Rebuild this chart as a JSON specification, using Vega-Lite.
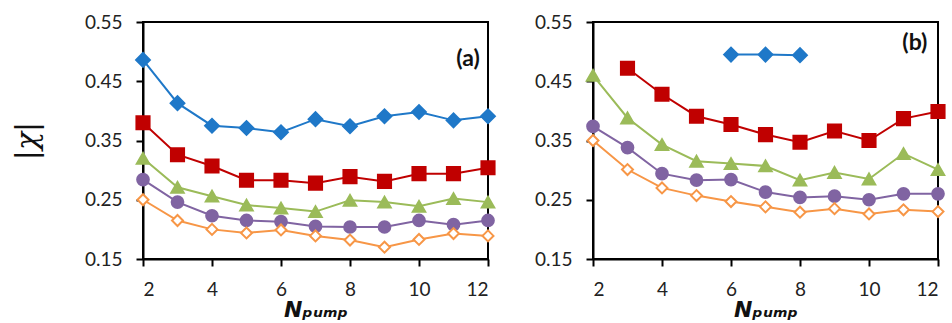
{
  "$schema": "https://vega.github.io/schema/vega-lite/v6.json",
  "background": "white",
  "padding": {"left": 11, "top": 12, "right": 2, "bottom": 2},
  "config": {
    "font": "Lato",
    "view": {"stroke": "black", "strokeWidth": 2},
    "axis": {
      "grid": false,
      "domainColor": "black",
      "domainWidth": 2,
      "tickColor": "black",
      "tickWidth": 2,
      "tickSize": 7,
      "labelFont": "Lato",
      "labelFontSize": 19,
      "labelColor": "#222222",
      "labelPadding": 14
    },
    "concat": {"spacing": 33}
  },
  "datasets": {
    "pts": [
      {"panel": "a", "series": "s1", "x": 2, "y": 0.486},
      {"panel": "a", "series": "s1", "x": 3, "y": 0.413},
      {"panel": "a", "series": "s1", "x": 4, "y": 0.375},
      {"panel": "a", "series": "s1", "x": 5, "y": 0.371},
      {"panel": "a", "series": "s1", "x": 6, "y": 0.364},
      {"panel": "a", "series": "s1", "x": 7, "y": 0.386},
      {"panel": "a", "series": "s1", "x": 8, "y": 0.374},
      {"panel": "a", "series": "s1", "x": 9, "y": 0.391},
      {"panel": "a", "series": "s1", "x": 10, "y": 0.398},
      {"panel": "a", "series": "s1", "x": 11, "y": 0.384},
      {"panel": "a", "series": "s1", "x": 12, "y": 0.391},
      {"panel": "a", "series": "s2", "x": 2, "y": 0.380},
      {"panel": "a", "series": "s2", "x": 3, "y": 0.326},
      {"panel": "a", "series": "s2", "x": 4, "y": 0.307},
      {"panel": "a", "series": "s2", "x": 5, "y": 0.283},
      {"panel": "a", "series": "s2", "x": 6, "y": 0.283},
      {"panel": "a", "series": "s2", "x": 7, "y": 0.278},
      {"panel": "a", "series": "s2", "x": 8, "y": 0.289},
      {"panel": "a", "series": "s2", "x": 9, "y": 0.281},
      {"panel": "a", "series": "s2", "x": 10, "y": 0.294},
      {"panel": "a", "series": "s2", "x": 11, "y": 0.294},
      {"panel": "a", "series": "s2", "x": 12, "y": 0.304},
      {"panel": "a", "series": "s3", "x": 2, "y": 0.320},
      {"panel": "a", "series": "s3", "x": 3, "y": 0.271},
      {"panel": "a", "series": "s3", "x": 4, "y": 0.256},
      {"panel": "a", "series": "s3", "x": 5, "y": 0.241},
      {"panel": "a", "series": "s3", "x": 6, "y": 0.236},
      {"panel": "a", "series": "s3", "x": 7, "y": 0.230},
      {"panel": "a", "series": "s3", "x": 8, "y": 0.249},
      {"panel": "a", "series": "s3", "x": 9, "y": 0.246},
      {"panel": "a", "series": "s3", "x": 10, "y": 0.239},
      {"panel": "a", "series": "s3", "x": 11, "y": 0.252},
      {"panel": "a", "series": "s3", "x": 12, "y": 0.246},
      {"panel": "a", "series": "s4", "x": 2, "y": 0.284},
      {"panel": "a", "series": "s4", "x": 3, "y": 0.246},
      {"panel": "a", "series": "s4", "x": 4, "y": 0.223},
      {"panel": "a", "series": "s4", "x": 5, "y": 0.215},
      {"panel": "a", "series": "s4", "x": 6, "y": 0.213},
      {"panel": "a", "series": "s4", "x": 7, "y": 0.205},
      {"panel": "a", "series": "s4", "x": 8, "y": 0.204},
      {"panel": "a", "series": "s4", "x": 9, "y": 0.204},
      {"panel": "a", "series": "s4", "x": 10, "y": 0.215},
      {"panel": "a", "series": "s4", "x": 11, "y": 0.208},
      {"panel": "a", "series": "s4", "x": 12, "y": 0.215},
      {"panel": "a", "series": "s5", "x": 2, "y": 0.250},
      {"panel": "a", "series": "s5", "x": 3, "y": 0.215},
      {"panel": "a", "series": "s5", "x": 4, "y": 0.200},
      {"panel": "a", "series": "s5", "x": 5, "y": 0.194},
      {"panel": "a", "series": "s5", "x": 6, "y": 0.199},
      {"panel": "a", "series": "s5", "x": 7, "y": 0.189},
      {"panel": "a", "series": "s5", "x": 8, "y": 0.182},
      {"panel": "a", "series": "s5", "x": 9, "y": 0.170},
      {"panel": "a", "series": "s5", "x": 10, "y": 0.183},
      {"panel": "a", "series": "s5", "x": 11, "y": 0.193},
      {"panel": "a", "series": "s5", "x": 12, "y": 0.189},
      {"panel": "b", "series": "s1", "x": 6, "y": 0.495},
      {"panel": "b", "series": "s1", "x": 7, "y": 0.495},
      {"panel": "b", "series": "s1", "x": 8, "y": 0.494},
      {"panel": "b", "series": "s2", "x": 3, "y": 0.472},
      {"panel": "b", "series": "s2", "x": 4, "y": 0.428},
      {"panel": "b", "series": "s2", "x": 5, "y": 0.391},
      {"panel": "b", "series": "s2", "x": 6, "y": 0.377},
      {"panel": "b", "series": "s2", "x": 7, "y": 0.360},
      {"panel": "b", "series": "s2", "x": 8, "y": 0.347},
      {"panel": "b", "series": "s2", "x": 9, "y": 0.366},
      {"panel": "b", "series": "s2", "x": 10, "y": 0.350},
      {"panel": "b", "series": "s2", "x": 11, "y": 0.387},
      {"panel": "b", "series": "s2", "x": 12, "y": 0.399},
      {"panel": "b", "series": "s3", "x": 2, "y": 0.460},
      {"panel": "b", "series": "s3", "x": 3, "y": 0.388},
      {"panel": "b", "series": "s3", "x": 4, "y": 0.343},
      {"panel": "b", "series": "s3", "x": 5, "y": 0.315},
      {"panel": "b", "series": "s3", "x": 6, "y": 0.311},
      {"panel": "b", "series": "s3", "x": 7, "y": 0.307},
      {"panel": "b", "series": "s3", "x": 8, "y": 0.283},
      {"panel": "b", "series": "s3", "x": 9, "y": 0.296},
      {"panel": "b", "series": "s3", "x": 10, "y": 0.285},
      {"panel": "b", "series": "s3", "x": 11, "y": 0.328},
      {"panel": "b", "series": "s3", "x": 12, "y": 0.301},
      {"panel": "b", "series": "s4", "x": 2, "y": 0.374},
      {"panel": "b", "series": "s4", "x": 3, "y": 0.338},
      {"panel": "b", "series": "s4", "x": 4, "y": 0.294},
      {"panel": "b", "series": "s4", "x": 5, "y": 0.283},
      {"panel": "b", "series": "s4", "x": 6, "y": 0.284},
      {"panel": "b", "series": "s4", "x": 7, "y": 0.263},
      {"panel": "b", "series": "s4", "x": 8, "y": 0.254},
      {"panel": "b", "series": "s4", "x": 9, "y": 0.256},
      {"panel": "b", "series": "s4", "x": 10, "y": 0.250},
      {"panel": "b", "series": "s4", "x": 11, "y": 0.260},
      {"panel": "b", "series": "s4", "x": 12, "y": 0.260},
      {"panel": "b", "series": "s5", "x": 2, "y": 0.350},
      {"panel": "b", "series": "s5", "x": 3, "y": 0.301},
      {"panel": "b", "series": "s5", "x": 4, "y": 0.270},
      {"panel": "b", "series": "s5", "x": 5, "y": 0.257},
      {"panel": "b", "series": "s5", "x": 6, "y": 0.247},
      {"panel": "b", "series": "s5", "x": 7, "y": 0.238},
      {"panel": "b", "series": "s5", "x": 8, "y": 0.229},
      {"panel": "b", "series": "s5", "x": 9, "y": 0.235},
      {"panel": "b", "series": "s5", "x": 10, "y": 0.226},
      {"panel": "b", "series": "s5", "x": 11, "y": 0.233},
      {"panel": "b", "series": "s5", "x": 12, "y": 0.230}
    ],
    "labels": [
      {"panel": "a", "x": 11.42, "y": 0.487, "text": "(a)"},
      {"panel": "b", "x": 11.33, "y": 0.514, "text": "(b)"}
    ]
  },
  "hconcat": [
    {
      "width": 345,
      "height": 237,
      "layer": [
        {
          "data": {"name": "pts"},
          "transform": [{"filter": "datum.panel === 'a'"}],
          "mark": {"type": "line", "strokeWidth": 2},
          "encoding": {
            "x": {"field": "x", "type": "quantitative", "scale": {"domain": [2, 12], "nice": false},
                  "axis": {"values": [2, 4, 6, 8, 10, 12], "title": "Nₚᵤₘₚ", "titleFont": "DejaVu Sans", "titleFontSize": 22, "titleFontWeight": "bold", "titleFontStyle": "italic", "titlePadding": 0, "titleColor": "#111111"}},
            "y": {"field": "y", "type": "quantitative", "scale": {"domain": [0.15, 0.55], "nice": false, "zero": false},
                  "axis": {"values": [0.15, 0.25, 0.35, 0.45, 0.55], "format": ".2f", "title": "|χ|", "titleFont": "DejaVu Serif", "titleFontSize": 30, "titleFontWeight": "normal", "titleFontStyle": "italic", "titlePadding": 42, "titleColor": "#111111"}},
            "color": {"field": "series", "type": "nominal", "legend": null,
                      "scale": {"domain": ["s1", "s2", "s3", "s4", "s5"], "range": ["#1F78C8", "#C00000", "#9BBB59", "#8064A2", "#F79646"]}},
            "detail": {"field": "series"}
          }
        },
        {
          "data": {"name": "pts"},
          "transform": [{"filter": "datum.panel === 'a'"}],
          "mark": {"type": "point", "filled": false, "strokeWidth": 2, "opacity": 1},
          "encoding": {
            "x": {"field": "x", "type": "quantitative"},
            "y": {"field": "y", "type": "quantitative"},
            "shape": {"field": "series", "type": "nominal", "legend": null,
                      "scale": {"domain": ["s1", "s2", "s3", "s4", "s5"], "range": ["diamond", "square", "triangle-up", "circle", "diamond"]}},
            "size": {"field": "series", "type": "nominal", "legend": null,
                     "scale": {"domain": ["s1", "s2", "s3", "s4", "s5"], "range": [190, 120, 130, 125, 190]}},
            "fill": {"field": "series", "type": "nominal", "legend": null,
                     "scale": {"domain": ["s1", "s2", "s3", "s4", "s5"], "range": ["#1F78C8", "#C00000", "#9BBB59", "#8064A2", "#FFFFFF"]}},
            "stroke": {"field": "series", "type": "nominal", "legend": null,
                       "scale": {"domain": ["s1", "s2", "s3", "s4", "s5"], "range": ["#1F78C8", "#C00000", "#9BBB59", "#8064A2", "#F79646"]}}
          }
        },
        {
          "data": {"name": "labels"},
          "transform": [{"filter": "datum.panel === 'a'"}],
          "mark": {"type": "text", "font": "Lato", "fontSize": 23, "fontWeight": "bold", "color": "#111111"},
          "encoding": {
            "x": {"field": "x", "type": "quantitative"},
            "y": {"field": "y", "type": "quantitative"},
            "text": {"field": "text"}
          }
        }
      ]
    },
    {
      "width": 345,
      "height": 237,
      "layer": [
        {
          "data": {"name": "pts"},
          "transform": [{"filter": "datum.panel === 'b'"}],
          "mark": {"type": "line", "strokeWidth": 2},
          "encoding": {
            "x": {"field": "x", "type": "quantitative", "scale": {"domain": [2, 12], "nice": false},
                  "axis": {"values": [2, 4, 6, 8, 10, 12], "title": "Nₚᵤₘₚ", "titleFont": "DejaVu Sans", "titleFontSize": 22, "titleFontWeight": "bold", "titleFontStyle": "italic", "titlePadding": 0, "titleColor": "#111111"}},
            "y": {"field": "y", "type": "quantitative", "scale": {"domain": [0.15, 0.55], "nice": false, "zero": false},
                  "axis": {"values": [0.15, 0.25, 0.35, 0.45, 0.55], "format": ".2f", "title": null}},
            "color": {"field": "series", "type": "nominal", "legend": null,
                      "scale": {"domain": ["s1", "s2", "s3", "s4", "s5"], "range": ["#1F78C8", "#C00000", "#9BBB59", "#8064A2", "#F79646"]}},
            "detail": {"field": "series"}
          }
        },
        {
          "data": {"name": "pts"},
          "transform": [{"filter": "datum.panel === 'b'"}],
          "mark": {"type": "point", "filled": false, "strokeWidth": 2, "opacity": 1},
          "encoding": {
            "x": {"field": "x", "type": "quantitative"},
            "y": {"field": "y", "type": "quantitative"},
            "shape": {"field": "series", "type": "nominal", "legend": null,
                      "scale": {"domain": ["s1", "s2", "s3", "s4", "s5"], "range": ["diamond", "square", "triangle-up", "circle", "diamond"]}},
            "size": {"field": "series", "type": "nominal", "legend": null,
                     "scale": {"domain": ["s1", "s2", "s3", "s4", "s5"], "range": [190, 120, 130, 125, 190]}},
            "fill": {"field": "series", "type": "nominal", "legend": null,
                     "scale": {"domain": ["s1", "s2", "s3", "s4", "s5"], "range": ["#1F78C8", "#C00000", "#9BBB59", "#8064A2", "#FFFFFF"]}},
            "stroke": {"field": "series", "type": "nominal", "legend": null,
                       "scale": {"domain": ["s1", "s2", "s3", "s4", "s5"], "range": ["#1F78C8", "#C00000", "#9BBB59", "#8064A2", "#F79646"]}}
          }
        },
        {
          "data": {"name": "labels"},
          "transform": [{"filter": "datum.panel === 'b'"}],
          "mark": {"type": "text", "font": "Lato", "fontSize": 23, "fontWeight": "bold", "color": "#111111"},
          "encoding": {
            "x": {"field": "x", "type": "quantitative"},
            "y": {"field": "y", "type": "quantitative"},
            "text": {"field": "text"}
          }
        }
      ]
    }
  ]
}
